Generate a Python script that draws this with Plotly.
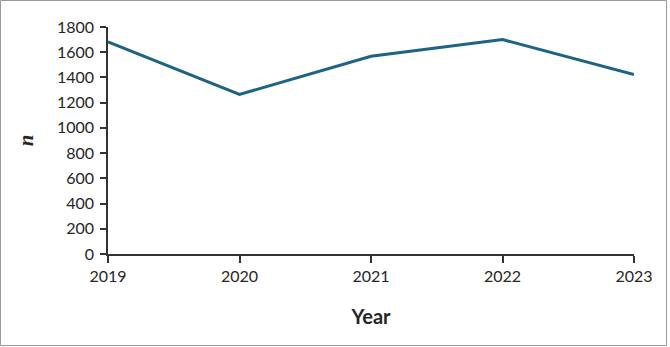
import plotly.graph_objects as go

years = ["2019", "2020", "2021", "2022", "2023"]
counts = [1681, 1265, 1568, 1700, 1423]
y_ticks = [0, 200, 400, 600, 800, 1000, 1200, 1400, 1600, 1800]

W, H = 670, 347
ml, mr, mt, mb = 108, 36, 27, 93
pw, ph = W - ml - mr, H - mt - mb

fig = go.Figure(go.Scatter(
    x=[int(y) for y in years], y=counts, mode="lines",
    line=dict(color="#1c6385", width=3), hoverinfo="skip", showlegend=False,
))

axis_font = dict(family="Lato, Open Sans, sans-serif", size=16, color="#262626")
fig.update_layout(
    width=W, height=H,
    margin=dict(l=ml, r=mr, t=mt, b=mb),
    paper_bgcolor="white", plot_bgcolor="white",
    xaxis=dict(
        range=[2019, 2023], tickvals=[int(y) for y in years], ticktext=years,
        showgrid=False, zeroline=False, showline=True, linecolor="#333333", linewidth=1.5,
        ticks="outside", ticklen=7, tickcolor="#333333", tickwidth=1.5,
        tickfont=axis_font,
        title=dict(text="<b>Year</b>", font=dict(family="Lato, Open Sans, sans-serif", size=20, color="#262626"), standoff=26),
    ),
    yaxis=dict(
        range=[0, 1800], tickvals=y_ticks,
        showgrid=False, zeroline=False, showline=True, linecolor="#333333", linewidth=1.5,
        ticks="outside", ticklen=6, tickcolor="#333333", tickwidth=1.5,
        tickfont=axis_font, ticklabelstandoff=3,
        title=dict(text="<b><i>n</i></b>", font=dict(family="Liberation Serif, serif", size=21, color="#262626"), standoff=18),
    ),
    shapes=[dict(
        type="rect", xref="paper", yref="paper",
        x0=-(ml - 0.5) / pw, x1=1 + (mr - 3.5) / pw,
        y0=-(mb - 1.5) / ph, y1=1 + (mt - 0.5) / ph,
        line=dict(color="#9a9a9a", width=1), fillcolor="rgba(0,0,0,0)",
    )],
)

fig.write_html("out.html")
